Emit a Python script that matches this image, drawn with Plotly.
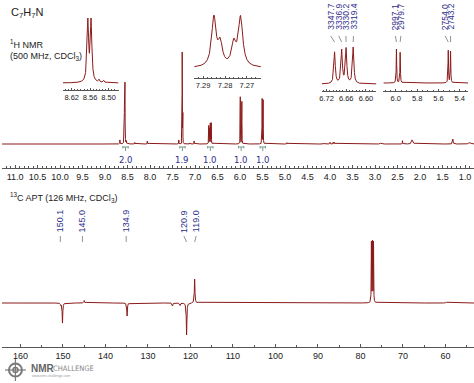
import numpy as np
import plotly.graph_objects as go

W, H = 474, 383

# ---------------- data ----------------
formula_text = "C<sub>7</sub>H<sub>7</sub>N"
h1_title = "<sup>1</sup>H NMR<br>(500 MHz, CDCl<sub>3</sub>)"
c13_title = "<sup>13</sup>C APT (126 MHz, CDCl<sub>3</sub>)"

# 1H spectrum peaks: position (ppm), intensity, half width (ppm)
h1_ppm = [8.5675, 8.5570, 8.531, 8.516, 8.67, 8.34, 8.06, 7.36, 7.12, 7.02,
          7.2851, 7.2822, 7.2760, 7.2729,
          6.6954, 6.6738, 6.6604, 6.6388,
          5.9942, 5.9594, 5.5080, 5.4864,
          4.96, 4.15, 4.00, 3.93, 3.90, 2.88, 2.39, 2.18, 2.16, 1.27, 0.90]
h1_int = [57.5, 57.5, 2.5, 2.0, 4.0, 1.5, 3.0, 4.0, 1.0, 3.0,
          85.0, 38.0, 38.0, 85.0,
          18.2, 19.2, 20.1, 21.0,
          47.0, 42.4, 45.0, 43.7,
          1.3, 1.0, 1.8, 1.8, 1.5, 0.8, 3.3, 3.5, 2.5, 5.0, 1.5]
h1_hw = [0.003, 0.003, 0.002, 0.002, 0.003, 0.003, 0.003, 0.003, 0.003, 0.003,
         0.0012, 0.0012, 0.0012, 0.0012,
         0.0025, 0.0025, 0.0025, 0.0025,
         0.0025, 0.0025, 0.0025, 0.0025,
         0.004, 0.004, 0.004, 0.004, 0.004, 0.006, 0.003, 0.012, 0.012, 0.006, 0.02]

# integrals
int_ppm = [8.545, 7.28, 6.66, 5.975, 5.495]
int_text = ["2.0", "1.9", "1.0", "1.0", "1.0"]

# peak-pick labels (Hz) in insets
inset3_hz = [3347.7, 3336.9, 3330.2, 3319.4]
inset4_hz = [2997.1, 2979.7, 2754.0, 2743.2]
spectrometer_mhz = 500.0

# 13C APT peaks: ppm, intensity (negative = CH/CH3 phase), half width
c13_ppm = [150.1, 150.5, 145.0, 134.9, 124.2, 122.4, 120.9, 119.0, 77.41, 77.16, 76.91, 59.8]
c13_int = [-20.0, -2.0, 2.5, -13.0, -3.0, -2.5, -32.0, 24.0, 60.0, 60.0, 60.0, 1.0]
c13_hw = [0.08, 0.08, 0.08, 0.08, 0.08, 0.08, 0.08, 0.08, 0.04, 0.04, 0.04, 0.1]
c13_labels = [150.1, 145.0, 134.9, 120.9, 119.0]

# ---------------- helpers ----------------
FONT = "Liberation Sans, Arial, sans-serif"
RED = "#8b1a1a"
NAVY = "#2e2d88"
AX = "#555555"


def py(p):
    return 1 - p / H


def px(p):
    return p / W


def make_grid(lo, hi, n, ppm, hw):
    parts = [np.linspace(lo, hi, n)]
    for p, w in zip(ppm, hw):
        parts.append(p + w * np.linspace(-25, 25, 101))
    g = np.unique(np.concatenate(parts))
    return g[(g >= lo) & (g <= hi)]


def spectrum(grid, ppm, amp, hw):
    y = np.zeros_like(grid)
    for p, a, w in zip(ppm, amp, hw):
        y += a / (1 + ((grid - p) / w) ** 2)
    return y


def xax(dom_px, rng, pos_px, tick0, dtick, mdtick, fmt, fsize, ticklen=3, mlen=2):
    return dict(domain=[px(dom_px[0]), px(dom_px[1])], range=rng, autorange=False,
                anchor="free", position=py(pos_px),
                showline=True, linecolor=AX, linewidth=1,
                ticks="inside", ticklen=ticklen, tickcolor=AX, tickwidth=1,
                tickmode="linear", tick0=tick0, dtick=dtick, tickformat=fmt,
                tickfont=dict(family=FONT, size=fsize, color="#222"),
                minor=dict(tick0=tick0, dtick=mdtick, ticks="inside", ticklen=mlen, tickcolor=AX),
                showgrid=False, zeroline=False, fixedrange=True)


def yax(anchor, base_px, scale, bot_px, top_px):
    return dict(domain=[py(bot_px), py(top_px)],
                range=[-(bot_px - base_px) / scale, (base_px - top_px) / scale],
                visible=False, anchor=anchor, fixedrange=True)


fig = go.Figure()

# ---- main 1H ----
h1_rng = [11.29, 0.80]
g = make_grid(0.80, 11.29, 4000, h1_ppm, h1_hw)
fig.add_trace(go.Scatter(x=g, y=spectrum(g, h1_ppm, h1_int, h1_hw), xaxis="x", yaxis="y",
                         mode="lines", line=dict(color=RED, width=1), hoverinfo="skip"))

# ---- 13C ----
c_rng = [164.33, 53.27]
g = make_grid(53.27, 164.33, 4000, c13_ppm, c13_hw)
fig.add_trace(go.Scatter(x=g, y=spectrum(g, c13_ppm, c13_int, c13_hw), xaxis="x2", yaxis="y2",
                         mode="lines", line=dict(color=RED, width=1), hoverinfo="skip"))

# ---- insets ----
insets = [
    # name, px domain, ppm range, axis pos, tick0, dtick, minor, fmt, baseline px, top px of max
    ("3", (61, 117), [8.649, 8.468], 90, 8.50, 0.06, 0.01, ".2f", 83, 18),
    ("4", (193, 260), [7.2941, 7.2636], 78, 7.27, 0.01, 0.002, ".2f", 68, 15),
    ("5", (321, 376), [6.7348, 6.5681], 91, 6.60, 0.06, 0.01, ".2f", 84, 47),
    ("6", (383, 468), [6.1168, 5.3224], 91, 5.4, 0.2, 0.05, ".1f", 83, 49),
]
for name, dom, rng, pos, t0, dt, mdt, fmt, base, top in insets:
    lo, hi = min(rng), max(rng)
    gi = make_grid(lo, hi, 1500, h1_ppm, h1_hw)
    si = spectrum(gi, h1_ppm, h1_int, h1_hw)
    scale = (base - top) / si.max()
    fig.add_trace(go.Scatter(x=gi, y=si, xaxis="x" + name, yaxis="y" + name, mode="lines",
                             line=dict(color=RED, width=1), hoverinfo="skip"))
    fig.layout["xaxis" + name] = xax(dom, rng, pos, t0, dt, mdt, fmt, 7.5, ticklen=2, mlen=1.5)
    fig.layout["yaxis" + name] = yax("x" + name, base, scale, base + 3, top - 3)

fig.layout["xaxis"] = xax((0, 474), h1_rng, 168, 0, 0.5, 0.1, ".1f", 9)
fig.layout["yaxis"] = yax("x", 144, 1.0, 150, 48)
fig.layout["xaxis2"] = xax((0, 474), c_rng, 347, 0, 10, 5, "d", 9)
fig.layout["yaxis2"] = yax("x2", 303, 1.0, 343, 233)

ann = []
shapes = []

# titles
ann.append(dict(x=px(7), y=py(13), xref="paper", yref="paper", text=formula_text, showarrow=False,
                xanchor="left", yanchor="middle", font=dict(family=FONT, size=11, color="#222")))
ann.append(dict(x=px(6), y=py(50), xref="paper", yref="paper", text=h1_title, showarrow=False,
                xanchor="left", yanchor="middle", align="left",
                font=dict(family=FONT, size=9, color="#222")))
ann.append(dict(x=px(6), y=py(197), xref="paper", yref="paper", text=c13_title, showarrow=False,
                xanchor="left", yanchor="middle", font=dict(family=FONT, size=9, color="#222")))

# integrals
for p, t in zip(int_ppm, int_text):
    ann.append(dict(x=p, y=py(160), xref="x", yref="paper", text=t, showarrow=False,
                    xanchor="center", yanchor="middle",
                    font=dict(family="DejaVu Sans, sans-serif", size=8.5, color=NAVY)))
    d = 0.06
    col = "#7a9a8c"
    shapes.append(dict(type="line", xref="x", yref="paper", x0=p - d, x1=p + d, y0=py(147), y1=py(147),
                       line=dict(color=col, width=1)))
    shapes.append(dict(type="line", xref="x", yref="paper", x0=p, x1=p, y0=py(147), y1=py(151),
                       line=dict(color=col, width=1)))
    for e in (p - d, p + d):
        shapes.append(dict(type="line", xref="x", yref="paper", x0=e, x1=e, y0=py(146), y1=py(148.5),
                           line=dict(color=col, width=1)))

# inset peak labels (Hz)
lab_off3 = [0.012, 0.009, 0.0006, -0.001]
lab_off4 = [0.010, -0.0065, 0.029, 0.0]
for axn, hzs, offs in (("x5", inset3_hz, lab_off3), ("x6", inset4_hz, lab_off4)):
    for hz, o in zip(hzs, offs):
        pk = hz / spectrometer_mhz
        ann.append(dict(x=pk + o, y=py(17), xref=axn, yref="paper", text=f"{hz:.1f}", showarrow=False,
                        textangle=-90, xanchor="center", yanchor="middle",
                        font=dict(family=FONT, size=8.5, color=NAVY)))
        shapes.append(dict(type="line", xref=axn, yref="paper", x0=pk + o, x1=pk, y0=py(36), y1=py(42),
                           line=dict(color="#777", width=0.8)))

# 13C labels (first three have straight connectors, last two slanted)
c_off = [0.5, 0.4, 0.2, 0.63, -0.35]
c_slant = [False, False, False, True, True]
for v, o, s in zip(c13_labels, c_off, c_slant):
    ann.append(dict(x=v + o, y=py(221), xref="x2", yref="paper", text=f"{v:.1f}", showarrow=False,
                    textangle=-90, xanchor="center", yanchor="middle",
                    font=dict(family=FONT, size=9, color=NAVY)))
    shapes.append(dict(type="line", xref="x2", yref="paper", x0=v + o, x1=(v if s else v + o),
                       y0=py(236), y1=py(242), line=dict(color="#777", width=0.8)))

# logo
LG = "#7a7a7a"
shapes.append(dict(type="circle", xref="paper", yref="paper", x0=px(7), x1=px(20), y0=py(376.5), y1=py(363.5),
                   line=dict(color=LG, width=2)))
shapes.append(dict(type="circle", xref="paper", yref="paper", x0=px(11), x1=px(16), y0=py(372.5), y1=py(367.5),
                   line=dict(color=LG, width=1.5)))
shapes.append(dict(type="line", xref="paper", yref="paper", x0=px(3), x1=px(24), y0=py(370), y1=py(370),
                   line=dict(color=LG, width=1.2)))
shapes.append(dict(type="line", xref="paper", yref="paper", x0=px(13.5), x1=px(13.5), y0=py(359), y1=py(381),
                   line=dict(color=LG, width=1.2)))
ann.append(dict(x=px(27), y=py(368), xref="paper", yref="paper", text="<b>NMR</b>", showarrow=False,
                xanchor="left", yanchor="middle", font=dict(family=FONT, size=10, color="#666")))
ann.append(dict(x=px(49), y=py(368), xref="paper", yref="paper", text="CHALLENGE", showarrow=False,
                xanchor="left", yanchor="middle",
                font=dict(family="Liberation Sans Narrow, DejaVu Sans Condensed, sans-serif", size=7.5,
                          color="#888")))
ann.append(dict(x=px(28), y=py(376), xref="paper", yref="paper", text="www.nmr-challenge.com", showarrow=False,
                xanchor="left", yanchor="middle", font=dict(family=FONT, size=3.5, color="#999")))

fig.update_layout(width=W, height=H, margin=dict(l=0, r=0, t=0, b=0),
                  paper_bgcolor="white", plot_bgcolor="white", showlegend=False,
                  annotations=ann, shapes=shapes)

fig.write_html("out.html", config={"displayModeBar": False, "staticPlot": True},
               post_script="document.body.style.margin='0px';")
